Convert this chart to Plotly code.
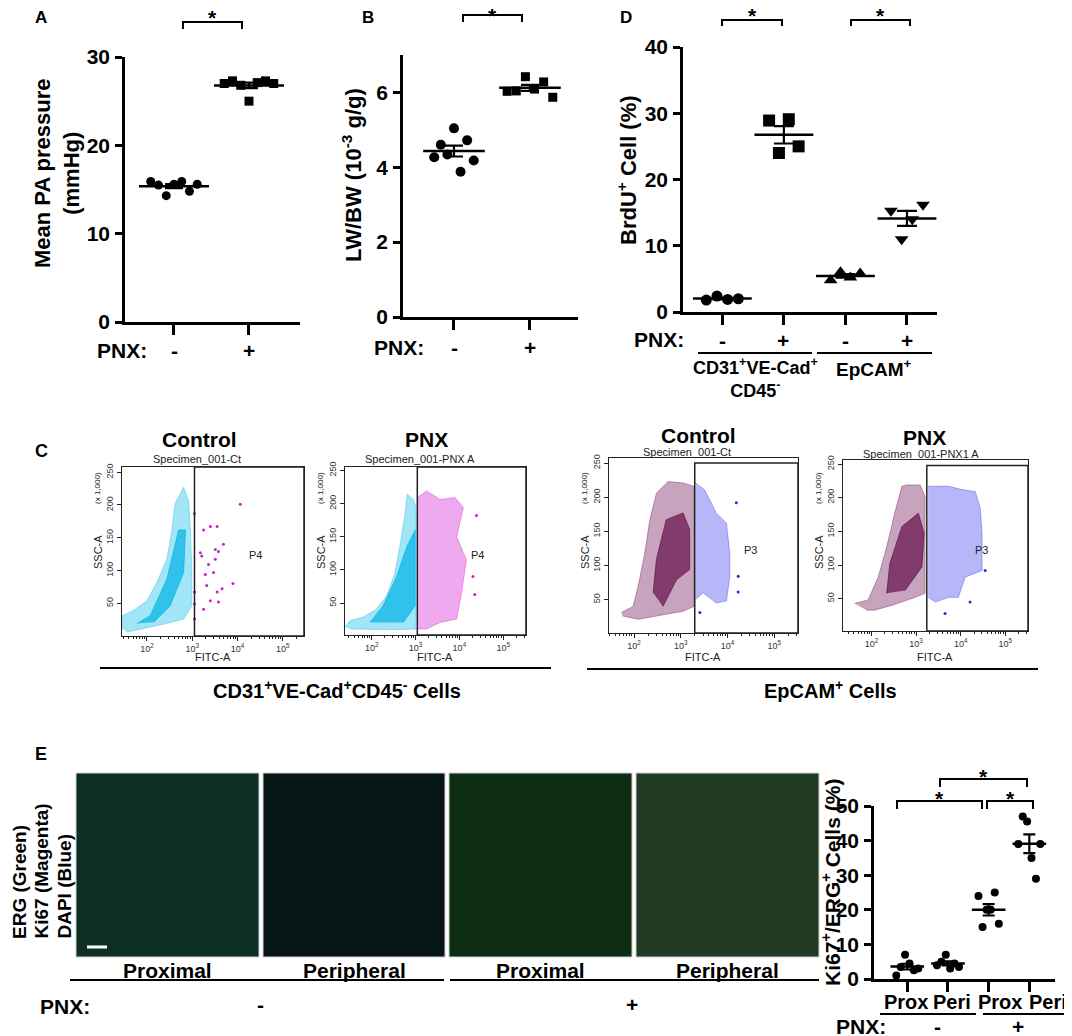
import numpy as np
import plotly.graph_objects as go

W, H = 1072, 1036
OFF = 8  # the page body adds an 8 px margin; everything is placed in page pixels
FONT = "Liberation Sans, Arial, Helvetica, sans-serif"

# ---- A: mean PA pressure (mmHg), ctrl vs PNX
pa_ctrl = [15.9, 15.5, 14.3, 15.6, 15.9, 14.8, 15.6]
pa_pnx = [27.0, 27.3, 26.8, 25.0, 27.1, 27.3, 27.0]

# ---- B: LW/BW (10^-3 g/g)
lwbw_ctrl = [4.27, 4.6, 4.34, 5.04, 3.88, 4.72, 4.18]
lwbw_pnx = [6.03, 6.04, 6.42, 6.09, 6.28, 5.87]

# ---- D: BrdU+ cells (%)
brdu_cd31_ctrl = [1.8, 2.4, 1.9, 2.0]
brdu_cd31_pnx = [28.9, 24.0, 29.1, 25.0]
brdu_ep_ctrl = [4.8, 6.0, 5.2, 5.8]
brdu_ep_pnx = [15.3, 11.0, 14.0, 16.2]

# ---- E: Ki67+/ERG+ cells (%)
ki_prox_ctrl = [1.0, 3.5, 7.0, 4.5, 2.5, 3.0]
ki_peri_ctrl = [4.0, 5.0, 7.0, 3.0, 4.5, 3.5]
ki_prox_pnx = [24.0, 15.0, 20.0, 20.0, 25.0, 16.0]
ki_peri_pnx = [39.0, 47.0, 45.5, 35.0, 29.0, 39.0]
e_labels = ["Prox", "Peri", "Prox", "Peri"]
pnx_labels = ["-", "+"]

# ---- C: flow cytometry clouds, outlines (log10 FITC-A, SSC-A x1000)
c1_cyan_logx = [1.45, 1.45, 1.70, 2.00, 2.22, 2.44, 2.55, 2.62, 2.81, 2.92, 2.96, 2.99, 2.99, 2.81, 2.44, 1.93, 1.56]
c1_cyan_ssc = [11, 31, 39, 54, 82, 117, 162, 202, 227, 207, 162, 102, 46, 26, 19, 11, 6]
c1_core_logx = [1.78, 2.07, 2.44, 2.70, 2.85, 2.81, 2.51, 2.15]
c1_core_ssc = [19, 31, 87, 162, 162, 97, 46, 21]
c1_mag_logx = [3.05, 3.05, 3.05, 3.05, 3.18, 3.21, 3.25, 3.29, 3.32, 3.36, 3.40, 3.47,
               3.51, 3.51, 3.55, 3.58, 3.55, 3.58, 3.69, 3.66, 3.90, 4.06, 3.40, 3.25]
c1_mag_ssc = [187, 67, 49, 26, 127, 122, 162, 94, 77, 109, 167, 97,
              132, 117, 167, 129, 67, 52, 140, 72, 80, 201, 54, 41]

c2_cyan_logx = [1.39, 1.51, 1.81, 2.11, 2.34, 2.53, 2.64, 2.76, 2.81, 2.95, 3.01, 3.01, 3.01, 2.57, 1.96, 1.51]
c2_cyan_ssc = [14, 24, 29, 41, 61, 95, 135, 184, 214, 206, 194, 100, 11, 10, 11, 11]
c2_core_logx = [1.96, 2.26, 2.57, 2.80, 2.99, 2.99, 2.72]
c2_core_ssc = [21, 46, 90, 135, 160, 46, 21]
c2_mag_logx = [3.04, 3.25, 3.56, 3.90, 4.09, 3.94, 4.16, 4.05, 3.94, 3.56, 3.25, 3.04]
c2_mag_ssc = [209, 219, 206, 209, 194, 150, 115, 66, 26, 21, 11, 11]
c2_out_logx = [4.39, 4.31, 4.35]
c2_out_ssc = [182, 90, 63]

c3_pur_logx = [1.73, 1.98, 2.09, 2.23, 2.34, 2.48, 2.73, 3.05, 3.28, 3.28, 3.05, 2.48, 2.09, 1.76]
c3_pur_ssc = [31, 40, 70, 118, 167, 206, 223, 221, 216, 40, 33, 26, 21, 26]
c3_core_logx = [2.41, 2.48, 2.69, 3.05, 3.19, 3.19, 2.91, 2.62]
c3_core_ssc = [60, 109, 167, 177, 153, 94, 79, 40]
c3_blue_logx = [3.32, 3.51, 3.76, 3.98, 4.05, 4.05, 3.98, 3.76, 3.48, 3.32]
c3_blue_ssc = [221, 211, 177, 162, 118, 84, 48, 45, 60, 50]
c3_out_logx = [4.19, 4.23, 4.23, 3.41]
c3_out_ssc = [192, 84, 61, 31]

c4_pur_logx = [1.62, 1.92, 2.15, 2.34, 2.52, 2.68, 2.79, 3.09, 3.20, 3.20, 2.98, 2.45, 2.07, 1.89]
c4_pur_ssc = [43, 48, 82, 127, 177, 217, 219, 219, 202, 58, 52, 40, 33, 33]
c4_core_logx = [2.34, 2.41, 2.68, 3.05, 3.18, 3.13, 2.75]
c4_core_ssc = [58, 102, 157, 177, 147, 97, 62]
c4_blue_logx = [3.27, 3.73, 4.03, 4.33, 4.44, 4.48, 4.48, 4.10, 3.95, 3.73, 3.43, 3.27]
c4_blue_ssc = [217, 217, 212, 209, 184, 147, 92, 82, 52, 52, 45, 52]
c4_out_logx = [4.21, 3.65, 4.55]
c4_out_ssc = [45, 28, 92]


def px(x):
    return (x - OFF) / W


def py(y):
    return 1 - (y - OFF) / H


fig = go.Figure()
layout = {}
annotations = []
shapes = []


def ann(text, x, y, size=21, bold=True, angle=0, xa="center", ya="middle", color="black", pad=1):
    annotations.append(dict(
        text=text, x=px(x), y=py(y), xref="paper", yref="paper", showarrow=False,
        textangle=angle, xanchor=xa, yanchor=ya, borderpad=pad,
        font=dict(family=FONT, size=size, color=color, weight="bold" if bold else "normal"),
    ))


def line(x0, y0, x1, y1, width=2, color="black"):
    shapes.append(dict(type="line", xref="paper", yref="paper", x0=px(x0), y0=py(y0), x1=px(x1), y1=py(y1),
                       line=dict(color=color, width=width)))


def bracket(x0, x1, y, drop, star_y):
    shapes.append(dict(type="path", xref="paper", yref="paper",
                       path=f"M {px(x0)},{py(y + drop)} L {px(x0)},{py(y)} L {px(x1)},{py(y)} L {px(x1)},{py(y + drop)}",
                       line=dict(color="black", width=2)))
    # the asterisk glyph sits ~4 px above the middle of its text box
    ann("*", (x0 + x1) / 2, star_y + 4, size=21, pad=0)


def dot_axes(i, box, xr, yr, yticks, xticks):
    x0, x1, y0, y1 = box
    layout[f"xaxis{i}"] = dict(
        domain=[px(x0), px(x1)], anchor=f"y{i}", range=xr, showline=True, linecolor="black", linewidth=2.5,
        ticks="outside", ticklen=10, tickwidth=2.5, tickcolor="black", tickvals=xticks, showticklabels=False,
        automargin=False, showgrid=False, zeroline=False,
    )
    layout[f"yaxis{i}"] = dict(
        domain=[py(y1), py(y0)], anchor=f"x{i}", range=yr, showline=True, linecolor="black", linewidth=2.5,
        ticks="outside", ticklen=7, tickwidth=2.5, tickcolor="black", tickvals=yticks, automargin=False,
        tickfont=dict(family=FONT, size=21, color="black", weight="bold"), showgrid=False, zeroline=False,
        ticklabelstandoff=1,
    )


def add_group(i, xpos, values, symbol, size, spread, mean_w, cap):
    n = len(values)
    offs = np.linspace(-spread, spread, n)
    fig.add_trace(go.Scatter(
        x=xpos + offs, y=values, mode="markers", xaxis=f"x{i}", yaxis=f"y{i}", cliponaxis=False,
        marker=dict(symbol=symbol, size=size, color="black", line=dict(width=0)),
    ))
    mean = float(np.mean(values))
    sem = float(np.std(values, ddof=1) / np.sqrt(n))
    fig.add_trace(go.Scatter(
        x=[xpos], y=[mean], mode="markers", xaxis=f"x{i}", yaxis=f"y{i}", cliponaxis=False,
        marker=dict(symbol="line-ew", size=mean_w, color="black", line=dict(width=2.5, color="black")),
        error_y=dict(type="data", array=[sem], width=cap, thickness=2.2, color="black"),
    ))


def tick_texts(labels, xs, y, size=21):
    for lab, x in zip(labels, xs):
        ann(lab, x, y, size=size)


# ---------------- A
dot_axes(1, (125, 300, 57, 322), [-0.653, 1.68], [0, 30], [0, 10, 20, 30], [0, 1])
add_group(1, 0, pa_ctrl, "circle", 9, 0.31, 50, 9)
add_group(1, 1, pa_pnx, "square", 9, 0.33, 50, 9)
ann("A", 41, 17, size=17, pad=0)
ann("Mean PA pressure<br>(mmHg)", 57, 173, angle=-90, size=22)
ann("PNX:", 122, 350)
tick_texts(pnx_labels, [174, 249], 350)
bracket(183, 242, 22, 7, 13)

# ---------------- B
dot_axes(2, (403, 578, 55, 317), [-0.671, 1.632], [0, 7], [0, 2, 4, 6], [0, 1])
add_group(2, 0, lwbw_ctrl, "circle", 10, 0.26, 44, 9)
add_group(2, 1, lwbw_pnx, "square", 9, 0.30, 44, 9)
ann("B", 368, 17, size=17, pad=0)
ann("LW/BW (10<sup>-3</sup> g/g)", 352, 175, angle=-90, size=22)
ann("PNX:", 399, 347)
tick_texts(pnx_labels, [454, 530], 347)
bracket(463, 522, 15, 7, 12)

# ---------------- D
dot_axes(3, (683, 937, 47, 312), [-0.639, 3.488], [0, 40], [0, 10, 20, 30, 40], [0, 1, 2, 3])
add_group(3, 0, brdu_cd31_ctrl, "circle", 11, 0.26, 42, 10)
add_group(3, 1, brdu_cd31_pnx, "square", 12, 0.24, 42, 10)
add_group(3, 2, brdu_ep_ctrl, "triangle-up", 12, 0.24, 42, 10)
add_group(3, 3, brdu_ep_pnx, "triangle-down", 12, 0.26, 42, 10)
ann("D", 626, 17, size=17, pad=0)
ann("BrdU<sup>+</sup> Cell (%)", 627, 170, angle=-90, size=22)
ann("PNX:", 659, 339)
tick_texts(pnx_labels * 2, [722, 783, 845, 907], 340)
line(698, 353, 812, 353)
line(817, 353, 932, 353)
ann("CD31<sup>+</sup>VE-Cad<sup>+</sup><br>CD45<sup>-</sup>", 755, 378, size=18)
ann("EpCAM<sup>+</sup>", 874, 368, size=19)
bracket(722, 782, 20, 6, 12)
bracket(851, 910, 20, 6, 12)

# ---------------- C : flow plots
minor_vals = [k * 10 ** d for d in range(1, 6) for k in range(2, 10)]


def flow_axes(i, box, xr, yr):
    x0, x1, y0, y1 = box
    common = dict(showline=True, mirror=True, linecolor="#222", linewidth=1.3, ticks="outside", ticklen=4,
                  tickcolor="#222", showgrid=False, zeroline=False, automargin=False,
                  tickfont=dict(family=FONT, size=9, color="#333"))
    layout[f"xaxis{i}"] = dict(
        domain=[px(x0), px(x1)], anchor=f"y{i}", type="log", range=xr, tickangle=0,
        tickvals=[1e2, 1e3, 1e4, 1e5], ticktext=["10<sup>2</sup>", "10<sup>3</sup>", "10<sup>4</sup>", "10<sup>5</sup>"],
        minor=dict(tickvals=minor_vals, ticks="outside", ticklen=2, tickcolor="#222"), **common)
    layout[f"yaxis{i}"] = dict(
        domain=[py(y1), py(y0)], anchor=f"x{i}", range=yr, tickvals=[50, 100, 150, 200, 250], tickangle=-90,
        **common)


def cloud(i, logx, ssc, color):
    fig.add_trace(go.Scatter(
        x=[10 ** v for v in logx], y=ssc, mode="lines", fill="toself", fillcolor=color,
        line=dict(color=color, width=1), xaxis=f"x{i}", yaxis=f"y{i}", hoverinfo="skip",
    ))


def dots(i, logx, ssc, color):
    fig.add_trace(go.Scatter(
        x=[10 ** v for v in logx], y=ssc, mode="markers", marker=dict(size=3, color=color),
        xaxis=f"x{i}", yaxis=f"y{i}",
    ))


def gate(i, gx, xr, y0, y1):
    shapes.append(dict(type="rect", xref=f"x{i}", yref=f"y{i}", x0=10 ** gx, x1=10 ** xr[1], y0=y0, y1=y1,
                       line=dict(color="#222", width=1.5)))


CYAN = "rgba(20,190,235,0.40)"
CYAN_CORE = "rgba(0,180,230,0.70)"
MAG = "rgba(215,40,215,0.40)"
MAG_DOT = "rgb(205,30,205)"
PUR = "rgba(115,25,90,0.40)"
PUR_CORE = "rgba(100,15,75,0.70)"
BLUE = "rgba(45,45,235,0.35)"
BLUE_DOT = "rgb(40,40,230)"

fl = [
    (4, (122, 304, 467, 636), [1.448, 5.47], [0, 258], 3.05, 258),
    (5, (345, 526, 467, 635), [1.39, 5.52], [2, 255], 3.04, 255),
    (6, (609, 798, 458, 633), [1.465, 5.51], [1, 257.5], 3.30, 250),
    (7, (843, 1028, 460, 631), [1.36, 5.51], [2, 256], 3.24, 248),
]
for i, box, xr, yr, gx, gtop in fl:
    flow_axes(i, box, xr, yr)
    gate(i, gx, xr, yr[0], gtop)

cloud(4, c1_cyan_logx, c1_cyan_ssc, CYAN)
cloud(4, c1_core_logx, c1_core_ssc, CYAN_CORE)
dots(4, c1_mag_logx, c1_mag_ssc, MAG_DOT)
cloud(5, c2_cyan_logx, c2_cyan_ssc, CYAN)
cloud(5, c2_core_logx, c2_core_ssc, CYAN_CORE)
cloud(5, c2_mag_logx, c2_mag_ssc, MAG)
dots(5, c2_out_logx, c2_out_ssc, MAG_DOT)
cloud(6, c3_pur_logx, c3_pur_ssc, PUR)
cloud(6, c3_core_logx, c3_core_ssc, PUR_CORE)
cloud(6, c3_blue_logx, c3_blue_ssc, BLUE)
dots(6, c3_out_logx, c3_out_ssc, BLUE_DOT)
cloud(7, c4_pur_logx, c4_pur_ssc, PUR)
cloud(7, c4_core_logx, c4_core_ssc, PUR_CORE)
cloud(7, c4_blue_logx, c4_blue_ssc, BLUE)
dots(7, c4_out_logx, c4_out_ssc, BLUE_DOT)

ann("C", 41, 451, size=18)
flow_titles = [
    ("Control", 199, 439, "Specimen_001-Ct", 197, 459, 98, 213, "P4", 255, 555),
    ("PNX", 426, 439, "Specimen_001-PNX A", 420, 459, 321, 435, "P4", 477, 555),
    ("Control", 698, 435, "Specimen_001-Ct", 687, 452, 585, 703, "P3", 750, 550),
    ("PNX", 924, 438, "Specimen_001-PNX1 A", 921, 454, 819, 935, "P3", 981, 550),
]
for t, tx, ty, s, sx, sy, yx, fx, g, gx_, gy_ in flow_titles:
    ann(t, tx, ty, size=21)
    ann(s, sx, sy, size=11, bold=False, color="#222")
    ann("SSC-A", yx, 552, size=11, bold=False, angle=-90, color="#222")
    ann("(x 1,000)", yx, 488, size=8, bold=False, angle=-90, color="#222")
    ann("FITC-A", fx, 657, size=11, bold=False, color="#222")
    ann(g, gx_, gy_, size=11, bold=False, color="#222")

line(100, 668, 551, 668)
line(587, 669, 1038, 669)
ann("CD31<sup>+</sup>VE-Cad<sup>+</sup>CD45<sup>-</sup> Cells", 337, 689, size=20)
ann("EpCAM<sup>+</sup> Cells", 830, 689, size=20)

# ---------------- E : images (placeholders) + Ki67 dot plot
img_boxes = [(76, 259), (263, 445), (449, 632), (636, 819)]
img_fill = ["rgb(12,48,38)", "rgb(6,22,22)", "rgb(14,46,20)", "rgb(32,58,36)"]
img_names = ["Proximal", "Peripheral", "Proximal", "Peripheral"]
for (x0, x1), c, name in zip(img_boxes, img_fill, img_names):
    shapes.append(dict(type="rect", xref="paper", yref="paper", x0=px(x0), x1=px(x1), y0=py(957), y1=py(773),
                       fillcolor=c, line=dict(color="#cfcfcf", width=1), layer="below"))
    ann(name, (x0 + x1) / 2, 970, size=21)
line(87, 947, 107, 947, width=3, color="white")
line(70, 980, 444, 980)
line(450, 980, 819, 980)
ann("PNX:", 65, 1006)
tick_texts(pnx_labels, [260, 632], 1004)
ann("E", 41, 754, size=18)
ann("ERG (Green)", 19, 940, size=19, angle=-90, ya="bottom", pad=0)
ann("Ki67 (Magenta)", 41, 940, size=19, angle=-90, ya="bottom", pad=0)
ann("DAPI (Blue)", 64, 940, size=19, angle=-90, ya="bottom", pad=0)

dot_axes(8, (874, 1055, 806, 979), [-0.818, 3.631], [0, 50], [0, 10, 20, 30, 40, 50], [0, 1, 2, 3])
add_group(8, 0, ki_prox_ctrl, "circle", 8, 0.27, 24, 6)
add_group(8, 1, ki_peri_ctrl, "circle", 8, 0.27, 24, 6)
add_group(8, 2, ki_prox_pnx, "circle", 8, 0.25, 24, 6)
add_group(8, 3, ki_peri_pnx, "circle", 8, 0.27, 24, 6)
tick_texts(e_labels, [906, 952, 1000, 1048], 1002, size=20)
ann("Ki67<sup>+</sup>/ERG<sup>+</sup> Cells (%)", 831, 883, angle=-90, size=21)
line(880, 1014, 976, 1014)
line(983, 1014, 1070, 1014)
ann("PNX:", 861, 1026)
tick_texts(pnx_labels, [937, 1018], 1026)
bracket(897, 982, 801, 8, 794)
bracket(987, 1033, 801, 8, 794)
bracket(940, 1027, 779, 8, 772)

fig.update_layout(
    width=W, height=H, margin=dict(l=0, r=0, t=0, b=0, autoexpand=False),
    paper_bgcolor="white", plot_bgcolor="rgba(0,0,0,0)", showlegend=False,
    font=dict(family=FONT, color="black"),
    annotations=annotations, shapes=shapes, **layout,
)

fig.write_html("out.html")
